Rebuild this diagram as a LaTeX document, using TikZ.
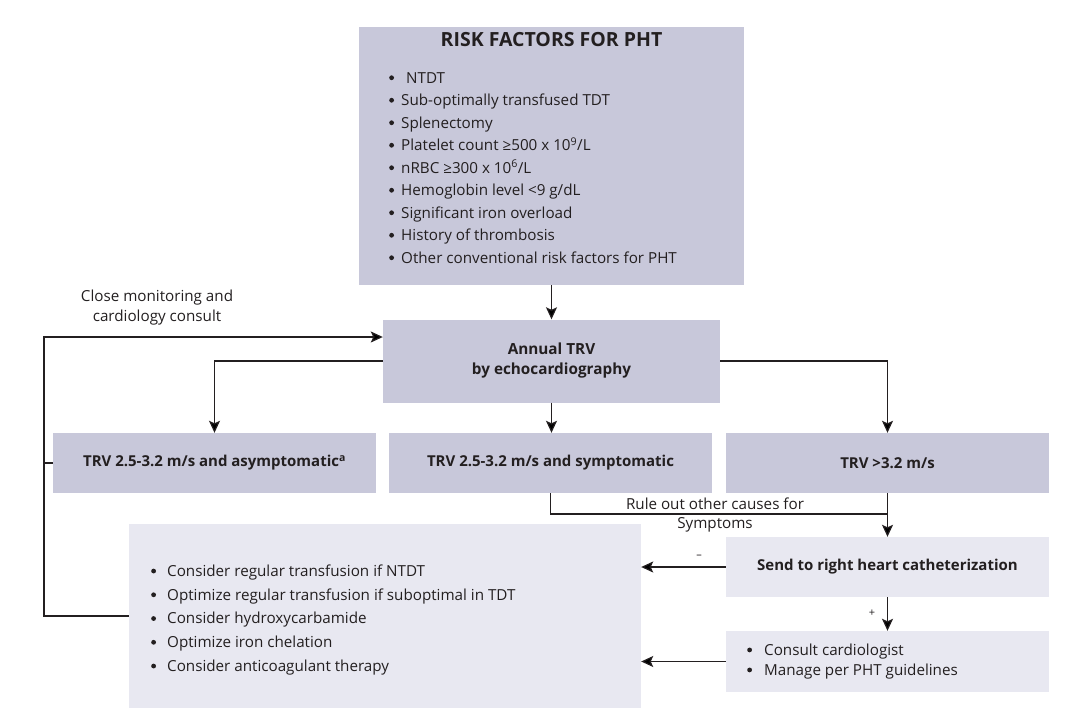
\documentclass[tikz,border=0pt]{standalone}
\usepackage{fontspec}
\setmainfont{Open Sans}
\usetikzlibrary{arrows.meta,calc}
\definecolor{boxdark}{RGB}{200,200,218}
\definecolor{boxlight}{RGB}{232,232,241}
\definecolor{ink}{RGB}{35,31,32}
\newcommand{\bul}[1]{\makebox[#1][l]{\raisebox{2.9pt}{\tikz\fill[ink] (0,0) circle (2.4pt);}}}
\begin{document}
\begin{tikzpicture}[x=1pt,y=-1pt,
  dark/.style={fill=boxdark, draw=none, inner sep=0pt, text=ink},
  light/.style={fill=boxlight, draw=none, inner sep=0pt, text=ink},
  arr/.style={-{Stealth[length=12pt,width=11pt,inset=2.5pt]}, line width=1.2pt, draw=ink},
  ln/.style={line width=1.2pt, draw=ink},
  txt/.style={text=ink, inner sep=0pt},
  boldf/.style={font=\fontsize{15}{18}\selectfont\bfseries},
]
\useasboundingbox (0,0) rectangle (1070,722);

% boxes
\node[dark, minimum width=385pt, minimum height=258pt] (risk) at (551.5,156) {};
\node[dark, minimum width=337pt, minimum height=83pt, align=center,
      font=\fontsize{15.3}{20}\selectfont\bfseries] (annual) at (551.5,361) {Annual TRV\\by echocardiography};
\node[dark, minimum width=323pt, minimum height=60pt, boldf] (asym) at (214.5,463)
  {TRV 2.5-3.2 m/s and asymptomatic\textsuperscript{a}};
\node[dark, minimum width=323pt, minimum height=60pt, boldf] (symp) at (550.5,463)
  {TRV 2.5-3.2 m/s and symptomatic};
\node[dark, minimum width=323pt, minimum height=60pt, boldf] (trvhi) at (887.5,463)
  {TRV >3.2 m/s};
\node[light, minimum width=512pt, minimum height=184pt] (manage) at (385,616) {};
\node[light, minimum width=323pt, minimum height=60pt, boldf] (rhc) at (887.5,567)
  {Send to right heart catheterization};
\node[light, minimum width=323pt, minimum height=61pt] (consult) at (887.5,661.5) {};

% texts inside boxes
\node[txt, font=\fontsize{19.5}{22}\selectfont\bfseries] (risktitle) at (551.5,40) {RISK FACTORS FOR PHT};
\node[txt, anchor=north west, align=left, font=\fontsize{15.2}{22.5}\selectfont] (risklist) at (389,72)
  {\bul{12pt}\hspace{5pt}NTDT\\
   \bul{12pt}Sub-optimally transfused TDT\\
   \bul{12pt}Splenectomy\\
   \bul{12pt}Platelet count ≥500 x 10\textsuperscript{9}/L\\
   \bul{12pt}nRBC ≥300 x 10\textsuperscript{6}/L\\
   \bul{12pt}Hemoglobin level <9 g/dL\\
   \bul{12pt}Significant iron overload\\
   \bul{12pt}History of thrombosis\\
   \bul{12pt}Other conventional risk factors for PHT};
\node[txt, anchor=north west, align=left, font=\fontsize{15.2}{23.75}\selectfont] (managelist) at (151,564.5)
  {\bul{16pt}Consider regular transfusion if NTDT\\
   \bul{16pt}Optimize regular transfusion if suboptimal in TDT\\
   \bul{16pt}Consider hydroxycarbamide\\
   \bul{16pt}Optimize iron chelation\\
   \bul{16pt}Consider anticoagulant therapy};
\node[txt, anchor=north west, align=left, font=\fontsize{15.2}{20}\selectfont] (consultlist) at (747,643.5)
  {\bul{17pt}Consult cardiologist\\
   \bul{17pt}Manage per PHT guidelines};

% connector labels
\node[txt, align=center, font=\fontsize{15.2}{20}\selectfont] (closelbl) at (157,308)
  {Close monitoring and\\cardiology consult};
\node[txt, align=center, font=\fontsize{15.2}{19}\selectfont] (rulelbl) at (715,515.5)
  {Rule out other causes for\\Symptoms};
\node[txt, font=\fontsize{11}{13}\selectfont] (minuslbl) at (699,557) {–};
\node[txt, font=\fontsize{11}{13}\selectfont] (pluslbl) at (872,613) {+};

% connectors
\coordinate (loopx) at (44,337);
\coordinate (join) at (887.5,514);
\draw[arr] (risk.south) -- (annual.north);
\draw[arr] (annual.west) -| (asym.north);
\draw[arr] (annual.south) -- (annual.south |- symp.north);
\draw[arr] (annual.east) -| (trvhi.north);
\draw[arr] (manage.west) -| (loopx) -- (loopx -| annual.west);
\draw[ln] (asym.west) -- (asym.west -| loopx);
\draw[ln] (symp.south) |- (join);
\draw[arr] (trvhi.south) -- (rhc.north);
\draw[arr] (rhc.west) -- (rhc.west -| manage.east);
\draw[arr] (rhc.south) -- (consult.north);
\draw[arr] (consult.west) -- (consult.west -| manage.east);
\end{tikzpicture}
\end{document}
